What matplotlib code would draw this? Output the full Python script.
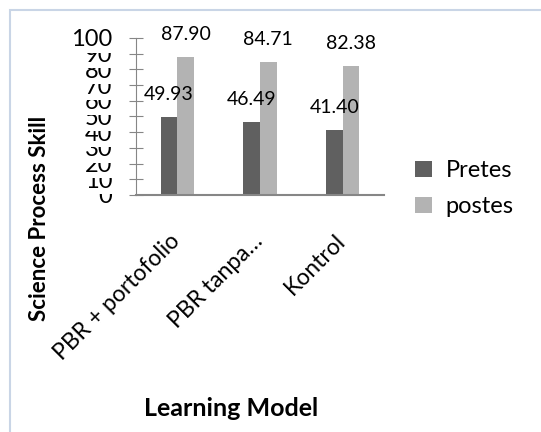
import numpy as np
import matplotlib.pyplot as plt
from matplotlib.patches import Rectangle
from matplotlib.transforms import ScaledTranslation

### Data ###
models = ['PBR + portofolio', 'PBR tanpa…', 'Kontrol']
pretes = [49.93, 46.49, 41.40]
postes = [87.90, 84.71, 82.38]
yticks = list(range(0, 101, 10))

plt.rcParams['font.family'] = ['Lato', 'DejaVu Sans']

W, H = 541, 432
fig = plt.figure(figsize=(W / 100, H / 100), dpi=100)

# light frame of the chart object
fig.patches.append(Rectangle((10 / W, -0.05), 1.1, 1 - 10 / H + 0.05,
                             transform=fig.transFigure, fill=False,
                             edgecolor='#c9d5e6', linewidth=1.5))

ax = fig.add_axes([136 / W, 1 - 195 / H, (384 - 136) / W, (195 - 38) / H])

x = np.arange(len(models))
bw = 0.2
b1 = ax.bar(x - bw / 2, pretes, bw, color='#606060', label='Pretes')
b2 = ax.bar(x + bw / 2, postes, bw, color='#b3b3b3', label='postes')

for bars, vals in ((b1, pretes), (b2, postes)):
    for r, v in zip(bars, vals):
        ax.annotate(f'{v:.2f}', (r.get_x() + r.get_width() / 2, v),
                    xytext=(0, 16), textcoords='offset points',
                    ha='center', va='center', fontsize=14)

ax.set_xlim(-0.5, 2.5)
ax.set_ylim(0, 100)
ax.set_yticks(yticks)
ax.set_yticklabels([str(t) for t in yticks], fontsize=17)
for lbl in ax.get_yticklabels():
    lbl.set_bbox(dict(facecolor='white', edgecolor='none', pad=1.5))
ax.tick_params(axis='y', direction='inout', length=10, color='#868686', pad=12)

ax.set_xticks(x)
ax.set_xticklabels(models, rotation=45, ha='right', rotation_mode='anchor', fontsize=16.5)
ax.tick_params(axis='x', length=0, pad=18)
shift = ScaledTranslation(-0.08, -0.1, fig.dpi_scale_trans)
for lbl in ax.get_xticklabels():
    lbl.set_transform(lbl.get_transform() + shift)

for s in ('top', 'right'):
    ax.spines[s].set_visible(False)
ax.spines['left'].set_color('#868686')
ax.spines['bottom'].set_color('#868686')
ax.spines['bottom'].set_linewidth(1.5)

ax.legend(loc='center left', bbox_to_anchor=(1.04, 0.04), frameon=False,
          fontsize=17, handlelength=0.7, handleheight=0.7, labelspacing=0.65,
          handletextpad=0.6)

fig.text(40 / W, 1 - 218 / H, 'Science Process Skill', rotation=90,
         ha='center', va='center', fontsize=16, fontweight='bold')
fig.text(231 / W, 1 - 408 / H, 'Learning Model', ha='center', va='center',
         fontsize=18, fontweight='bold')

fig.savefig('out.png', dpi=100)
